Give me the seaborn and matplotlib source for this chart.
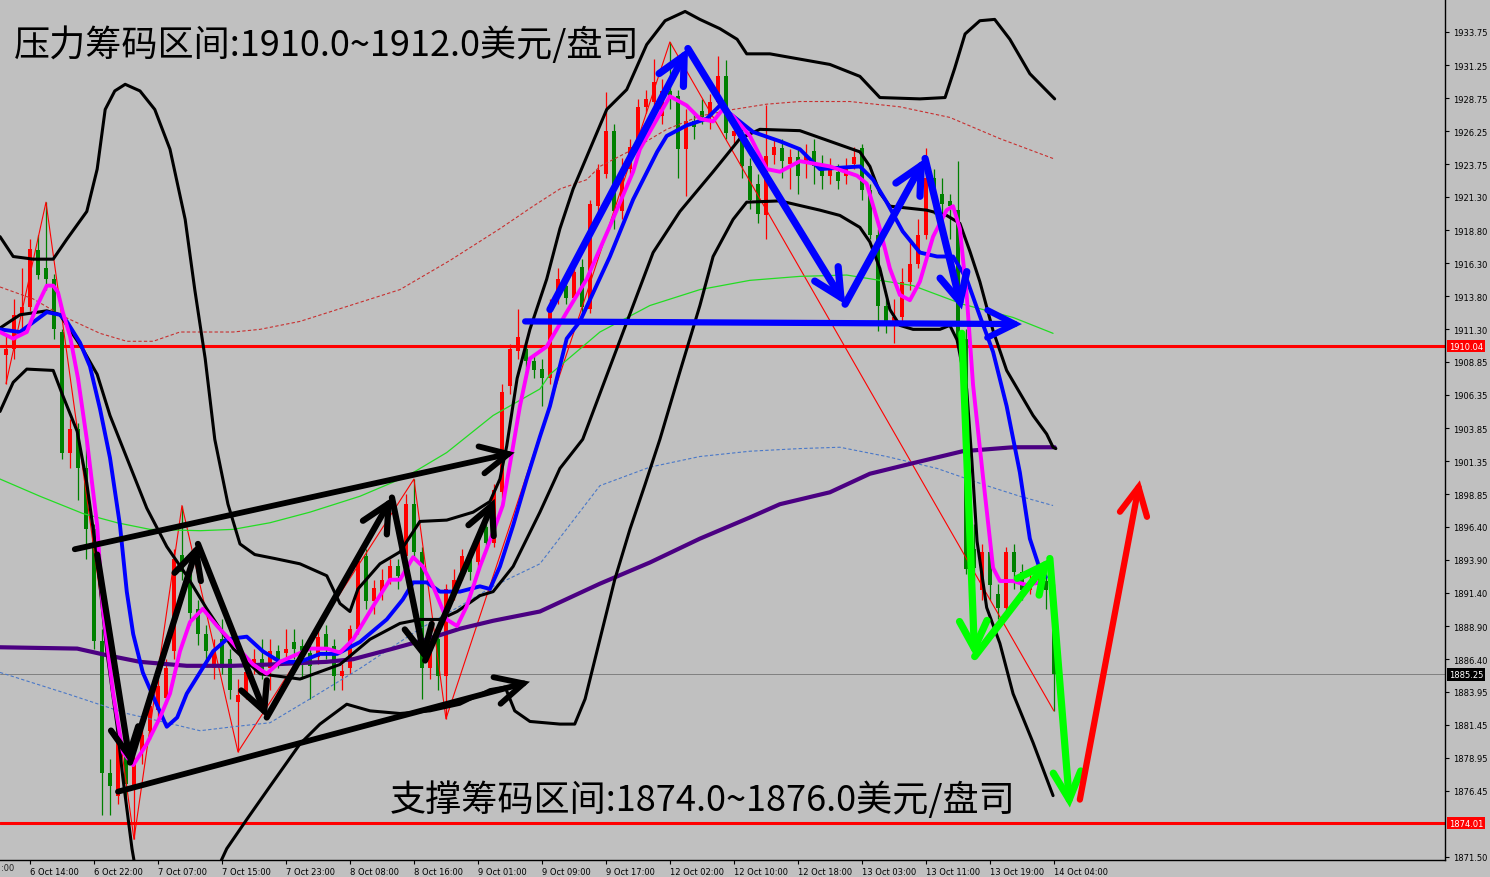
import matplotlib
matplotlib.use('Agg')
import matplotlib.pyplot as plt
import matplotlib.transforms as mtransforms
import seaborn as sns
import pandas as pd
import numpy as np

#================================================
# DATA (XAUUSD H1)

opens = [1909.4, 1909.8, 1912.4, 1913.0, 1917.3, 1915.9, 1915.1, 1911.1, 1902.0, 1903.8,
         1900.8, 1896.2, 1887.8, 1877.8, 1876.1, 1880.4, 1876.6, 1879.4, 1881.0, 1882.6,
         1883.5, 1887.0, 1894.3, 1893.0, 1890.2, 1888.3, 1885.7, 1887.9, 1886.4, 1883.2,
         1883.8, 1885.7, 1886.4, 1885.7, 1887.0, 1886.9, 1887.7, 1887.4, 1886.9, 1886.6,
         1888.3, 1887.4, 1885.1, 1885.7, 1888.7, 1894.2, 1890.8, 1891.5, 1892.4, 1893.4,
         1894.2, 1898.1, 1894.5, 1885.7, 1887.9, 1885.1, 1891.5, 1893.0, 1894.0, 1893.7,
         1896.4, 1895.2, 1899.0, 1907.0, 1909.7, 1909.8, 1908.9, 1908.3, 1907.6, 1913.7,
         1914.6, 1913.7, 1916.0, 1912.8, 1920.6, 1923.0, 1926.3, 1920.2, 1923.4, 1925.1,
         1928.1, 1928.5, 1927.4, 1929.3, 1928.9, 1924.9, 1927.0, 1927.8, 1927.3, 1928.5,
         1930.4, 1925.9, 1925.7, 1923.6, 1922.3, 1919.9, 1924.5, 1925.0, 1923.8, 1924.3,
         1924.0, 1924.8, 1923.8, 1922.9, 1923.2, 1922.9, 1923.8, 1925.0, 1921.8, 1918.4,
         1913.1, 1911.9, 1912.2, 1914.9, 1916.2, 1918.4, 1922.7, 1921.5, 1921.0, 1920.3,
         1910.6, 1894.7, 1891.6, 1894.5, 1891.3, 1890.3, 1894.5, 1893.0, 1891.6, 1892.0,
         1892.3, 1891.6]
closes = [1909.8, 1912.4, 1913.0, 1917.4, 1915.4, 1915.1, 1911.3, 1902.0, 1903.8, 1900.8,
          1896.2, 1887.8, 1877.8, 1876.8, 1880.4, 1877.0, 1878.9, 1880.7, 1882.9, 1884.4,
          1885.7, 1894.0, 1893.0, 1889.9, 1888.3, 1887.0, 1887.0, 1885.7, 1884.1, 1883.7,
          1885.4, 1886.4, 1885.6, 1887.0, 1886.4, 1887.2, 1887.2, 1886.9, 1885.9, 1888.1,
          1887.2, 1885.1, 1885.5, 1888.7, 1893.8, 1890.8, 1891.8, 1892.4, 1893.4, 1892.7,
          1898.1, 1894.5, 1885.7, 1888.4, 1885.1, 1891.7, 1892.4, 1894.2, 1893.0, 1895.5,
          1895.2, 1899.2, 1906.6, 1909.8, 1910.7, 1908.9, 1908.2, 1907.6, 1912.8, 1915.1,
          1913.7, 1915.6, 1913.0, 1920.8, 1923.3, 1926.3, 1920.2, 1923.4, 1925.1, 1928.1,
          1928.7, 1930.0, 1929.3, 1928.9, 1924.9, 1927.0, 1926.6, 1927.3, 1928.5, 1930.4,
          1926.1, 1926.3, 1923.6, 1921.1, 1920.0, 1924.4, 1925.1, 1924.0, 1924.3, 1922.9,
          1924.5, 1923.6, 1922.9, 1923.3, 1922.5, 1923.5, 1924.3, 1921.8, 1918.4, 1913.1,
          1911.6, 1912.2, 1914.9, 1916.2, 1918.4, 1922.7, 1921.3, 1920.8, 1920.6, 1910.6,
          1893.2, 1893.3, 1894.5, 1892.0, 1890.3, 1894.5, 1893.0, 1891.6, 1892.3, 1892.3,
          1891.6, 1885.25]
highs = [1910.9, 1913.6, 1915.9, 1918.1, 1918.4, 1920.9, 1915.5, 1911.3, 1904.5, 1904.2,
         1903.0, 1896.6, 1888.7, 1878.9, 1880.7, 1880.7, 1879.6, 1881.5, 1883.4, 1884.9,
         1886.4, 1894.7, 1898.0, 1893.6, 1890.9, 1889.0, 1887.9, 1889.4, 1887.2, 1884.9,
         1886.0, 1887.2, 1887.9, 1887.9, 1887.5, 1888.7, 1888.7, 1887.9, 1887.5, 1888.7,
         1889.0, 1887.9, 1886.0, 1889.0, 1894.3, 1894.7, 1892.4, 1893.2, 1894.0, 1894.0,
         1898.9, 1900.0, 1894.9, 1889.0, 1888.7, 1892.1, 1893.2, 1894.7, 1894.7, 1895.9,
         1897.0, 1899.6, 1907.2, 1910.2, 1912.8, 1910.6, 1909.4, 1909.1, 1913.6, 1915.9,
         1915.1, 1916.2, 1916.6, 1921.1, 1923.8, 1929.2, 1926.8, 1924.2, 1925.7, 1928.7,
         1929.4, 1931.7, 1930.2, 1933.0, 1929.4, 1927.9, 1927.6, 1928.7, 1929.1, 1931.9,
         1931.6, 1927.2, 1926.4, 1924.2, 1923.0, 1928.2, 1925.7, 1925.7, 1924.9, 1924.9,
         1925.3, 1925.7, 1924.5, 1924.2, 1923.8, 1924.2, 1925.1, 1925.3, 1922.3, 1918.9,
         1913.6, 1913.6, 1915.9, 1918.1, 1919.6, 1925.0, 1923.4, 1922.7, 1921.5, 1924.0,
         1911.3, 1896.6, 1895.1, 1894.9, 1892.1, 1894.9, 1895.1, 1893.6, 1892.8, 1893.2,
         1892.8, 1892.1]
lows = [1907.2, 1909.1, 1911.3, 1912.7, 1915.1, 1914.3, 1910.6, 1901.5, 1900.8, 1898.4,
        1894.0, 1887.2, 1874.6, 1874.6, 1875.5, 1875.8, 1872.8, 1878.5, 1880.4, 1881.9,
        1883.0, 1886.4, 1892.4, 1889.0, 1887.5, 1886.0, 1884.9, 1885.3, 1883.4, 1879.4,
        1883.4, 1885.3, 1884.9, 1884.1, 1885.7, 1886.0, 1886.4, 1884.9, 1883.4, 1886.0,
        1886.4, 1884.1, 1884.1, 1885.3, 1888.3, 1890.2, 1889.8, 1890.9, 1892.1, 1891.7,
        1894.0, 1894.0, 1883.4, 1884.9, 1884.1, 1881.9, 1890.9, 1892.4, 1892.4, 1893.2,
        1894.7, 1894.9, 1898.6, 1906.4, 1909.1, 1908.3, 1907.6, 1905.5, 1907.2, 1913.2,
        1913.2, 1913.6, 1912.5, 1912.5, 1920.0, 1922.7, 1918.9, 1919.6, 1923.0, 1924.5,
        1927.6, 1927.9, 1926.8, 1927.9, 1922.7, 1921.4, 1925.7, 1926.8, 1926.4, 1927.9,
        1925.7, 1925.3, 1922.7, 1920.4, 1919.3, 1918.1, 1923.8, 1922.7, 1921.9, 1921.5,
        1922.7, 1922.3, 1921.9, 1922.3, 1921.9, 1922.3, 1923.4, 1921.1, 1918.1, 1911.2,
        1911.0, 1910.3, 1911.7, 1914.3, 1915.9, 1918.1, 1920.0, 1920.0, 1918.1, 1910.2,
        1892.8, 1892.4, 1890.9, 1890.9, 1889.4, 1890.0, 1891.7, 1890.9, 1891.3, 1891.3,
        1890.2, 1882.5]

# zigzag pivots: bar index and whether it is a high
zigzag_bars = [0, 5, 16, 22, 29, 51, 55, 83, 131]
zigzag_is_high = [False, True, False, True, False, True, False, True, False]

# indicator lines (bar index, price)
outer_up_x = [-0.75, 0.9, 3.4, 5.9, 7.6, 10.1, 11.4, 12.4, 13.6, 14.9, 16.75, 18.6, 20.5, 22.4,
              23.6, 24.9, 26.1, 27.75, 29.25, 31.1, 33.6, 36.75, 40.1, 41.75, 43, 44, 46.75,
              49.25, 51.75, 55.1, 58.4, 60.5, 61.75, 62.6, 63.9, 65.5, 67.6, 69.25, 70.9, 73,
              75.1, 77.6, 80.1, 82.4, 84.9, 86.75, 89.25, 91.4, 92.6, 95.5, 99.25, 103, 106.75,
              109.25, 114.25, 117.4, 118.6, 119.9, 121.75, 123.6, 125.5, 128, 131.1]
outer_up_y = [1918.3, 1916.8, 1916.6, 1916.6, 1918.1, 1920.2, 1923.4, 1927.9, 1929.3, 1929.8,
              1929.3, 1927.9, 1924.9, 1919.6, 1914.3, 1909.1, 1903.0, 1898.1, 1895.1, 1894.3,
              1894.0, 1893.6, 1892.7, 1890.6, 1890.0, 1891.7, 1893.6, 1894.5, 1896.8, 1896.9,
              1897.5, 1898.3, 1900.0, 1902.5, 1907.6, 1911.3, 1915.1, 1918.9, 1921.9, 1924.9,
              1927.9, 1929.4, 1932.8, 1934.6, 1935.3, 1934.7, 1934.0, 1933.2, 1932.1, 1932.1,
              1931.7, 1931.3, 1930.4, 1928.8, 1928.7, 1928.8, 1931.0, 1933.6, 1934.6, 1934.7,
              1933.2, 1930.6, 1928.7]
outer_lo_x = [-0.75, 0.9, 2.6, 5.9, 7.1, 8.9, 10.1, 11.4, 12.6, 13.9, 14.6, 15.75, 16.4, 21.75,
              27.6, 30.1, 33, 36.75, 39.25, 42.6, 45.5, 49.25, 53, 56.75, 60.5, 62.4, 63.6,
              65.5, 69.25, 71.1, 72.4, 74.25, 76.1, 78, 79.9, 81.75, 84.25, 86.75, 88.4, 90.9,
              92.6, 96.75, 101.75, 104.25, 106.75, 108, 109.25, 110.5, 111.75, 113.4, 116.75,
              118, 118.9, 120.1, 120.75, 121.4, 122.6, 124.25, 125.9, 128.4, 130.9]
outer_lo_y = [1905.1, 1907.3, 1908.3, 1908.2, 1906.3, 1903.6, 1899.7, 1894.0, 1887.0, 1881.3,
              1877.5, 1872.1, 1869.8, 1864.5, 1872.1, 1874.3, 1876.8, 1880.0, 1881.5, 1883.0,
              1882.5, 1882.3, 1882.5, 1883.0, 1884.1, 1884.3, 1882.5, 1881.7, 1881.5, 1881.5,
              1883.4, 1887.9, 1892.4, 1896.2, 1899.6, 1903.0, 1908.1, 1913.1, 1916.8, 1919.6,
              1920.9, 1921.0, 1920.3, 1919.9, 1919.0, 1917.9, 1915.9, 1912.8, 1911.6, 1911.3,
              1911.3, 1911.6, 1910.5, 1906.8, 1901.4, 1895.3, 1890.3, 1887.6, 1883.8, 1880.1,
              1876.1]
inner_x = [-0.75, 1.75, 5.1, 6.75, 9.6, 11.4, 13, 15.1, 17.6, 20.1, 22.6, 25.1, 28.4, 31.75,
           36.75, 41.75, 45.5, 49.25, 51.75, 54.25, 56.4, 59.25, 60.9, 63.4, 66.75, 69.25, 72.1,
           75.9, 78.4, 80.9, 84.25, 88.4, 91.75, 94.25, 99.25, 106.75, 108, 109.25, 110.5,
           115.1, 117.6, 119.25, 120.5, 121.75, 123.4, 125.1, 126.75, 128.4, 130.1, 130.9, 131.25]
inner_y = [1911.4, 1912.4, 1912.7, 1912.4, 1909.8, 1907.9, 1904.8, 1901.6, 1897.8, 1894.9,
           1892.7, 1890.2, 1887.2, 1885.3, 1884.9, 1886.0, 1887.9, 1889.1, 1889.4, 1889.4,
           1890.0, 1891.2, 1891.5, 1893.4, 1897.5, 1900.8, 1903.0, 1909.1, 1913.1, 1917.1,
           1920.2, 1923.2, 1925.7, 1926.4, 1926.3, 1924.7, 1923.6, 1921.6, 1920.6, 1920.3,
           1919.9, 1919.3, 1917.2, 1914.9, 1911.2, 1908.2, 1906.5, 1904.8, 1903.4, 1902.4, 1902.3]
blue_ma_x = [-0.75, 1.75, 5.1, 6.75, 7.6, 9.25, 10.5, 11.75, 13, 14.25, 15.1, 15.9, 17.1, 18.9,
             20.1, 21.4, 22.6, 24.25, 25.9, 27.6, 30.1, 32.1, 34.25, 36.75, 39.25, 41.4, 44.25,
             47.6, 49.6, 50.9, 52.6, 54.25, 56.75, 59.25, 60.5, 61.75, 63.4, 65.1, 66.75, 68,
             70.1, 71.75, 75.5, 78.4, 81.4, 82.6, 85.1, 87.6, 89.25, 90.9, 93.4, 96.75, 99.25,
             101.75, 106.75, 108.4, 110.1, 112.1, 114.25, 116.4, 118.4, 120.1, 121.75, 123.4,
             125.1, 126.75, 128, 129.25, 130]
blue_ma_y = [1911.3, 1911.1, 1912.6, 1912.4, 1911.9, 1910.3, 1908.5, 1905.3, 1901.6, 1896.5,
             1891.5, 1888.3, 1885.4, 1882.9, 1881.3, 1882.0, 1883.8, 1885.4, 1887.0, 1887.9,
             1888.1, 1887.0, 1886.2, 1886.2, 1886.8, 1886.8, 1887.7, 1889.4, 1890.9, 1892.2,
             1892.2, 1891.5, 1891.5, 1891.9, 1891.7, 1893.4, 1896.5, 1900.0, 1903.2, 1905.5,
             1910.6, 1911.9, 1916.8, 1921.1, 1924.7, 1925.9, 1926.7, 1927.2, 1928.2, 1927.4,
             1926.2, 1925.5, 1924.9, 1923.4, 1923.6, 1922.6, 1920.9, 1918.7, 1917.1, 1916.8,
             1916.8, 1915.1, 1912.3, 1909.6, 1905.5, 1900.5, 1895.5, 1893.2, 1892.6]
magenta_ma_x = [-0.75, 0.9, 2.6, 3.9, 5.1, 5.9, 6.5, 7.1, 8, 9, 10.1, 11.4, 12.1, 13.4, 14.6,
                15.9, 17.6, 19.25, 20.5, 21.75, 23, 24.6, 26.4, 28.4, 30.9, 32.6, 34.25, 38,
                40.1, 41.75, 43.4, 45.9, 48, 49.25, 50.9, 52.1, 53.4, 55.1, 56.4, 57.6, 59.25,
                60.9, 62.1, 63.4, 64.25, 65.5, 67.6, 70.1, 72.6, 75.5, 78.4, 79.25, 83, 85.1,
                86.75, 88.4, 89.6, 90.9, 93, 95.1, 96.75, 98, 99.25, 103, 106.4, 107.6, 109.25,
                110.5, 111.75, 113, 114.25, 115.9, 117.6, 118.4, 119.25, 120.1, 120.9, 122.1,
                123.4, 124.25, 125.9, 127.6, 129.25]
magenta_ma_y = [1911.1, 1910.6, 1911.1, 1913.1, 1914.6, 1914.6, 1914.1, 1912.6, 1910.8, 1907.6,
                1903.0, 1896.5, 1890.2, 1883.8, 1879.4, 1878.4, 1880.0, 1882.0, 1883.8, 1887.0,
                1889.2, 1890.2, 1888.9, 1887.6, 1886.0, 1885.3, 1886.2, 1887.2, 1887.2, 1886.9,
                1887.9, 1890.4, 1892.4, 1892.4, 1894.1, 1893.4, 1891.9, 1889.4, 1888.9, 1890.4,
                1893.4, 1896.0, 1898.0, 1902.5, 1905.5, 1909.1, 1910.0, 1912.6, 1915.1, 1919.1,
                1923.2, 1924.9, 1928.9, 1928.2, 1927.2, 1927.0, 1927.9, 1927.4, 1925.9, 1923.4,
                1923.2, 1923.6, 1924.0, 1923.6, 1922.9, 1922.3, 1918.9, 1915.9, 1913.9, 1913.5,
                1914.9, 1918.3, 1920.3, 1920.6, 1918.9, 1913.9, 1907.1, 1900.4, 1893.3, 1892.3,
                1892.3, 1892.0, 1892.2]
purple_ma_x = [-0.75, 8.9, 12.6, 16.75, 22.6, 28.4, 33, 40.1, 43.4, 48.4, 52.6, 56.75, 60.9,
               66.75, 74.25, 80.5, 86.75, 93, 96.75, 103, 108, 113.4, 119.6, 125.9, 131.1]
purple_ma_y = [1887.3, 1887.2, 1886.7, 1886.2, 1885.9, 1885.9, 1886.0, 1886.2, 1886.4, 1887.2,
               1887.9, 1888.7, 1889.3, 1890.0, 1892.1, 1893.7, 1895.5, 1897.1, 1898.1, 1899.0,
               1900.4, 1901.2, 1902.1, 1902.4, 1902.4]
green_ma_x = [-0.75, 4.25, 9.6, 13.9, 18, 24.25, 28.4, 33, 38, 44.25, 50.1, 55.1, 60.9, 66.75,
              68, 74.25, 80.5, 86.75, 93, 99.25, 105.1, 113.4, 119.6, 125.9, 130.9]
green_ma_y = [1900.0, 1898.7, 1897.4, 1896.7, 1896.2, 1896.1, 1896.2, 1896.7, 1897.5, 1898.7,
              1900.2, 1902.0, 1904.8, 1906.8, 1907.9, 1911.1, 1913.1, 1914.3, 1915.0, 1915.3,
              1915.4, 1914.6, 1913.2, 1912.2, 1911.0]
env_up_x = [-0.75, 3.4, 7.1, 9.6, 11.75, 15.1, 18.4, 21.75, 28.4, 31.75, 36.75, 43, 49.25, 55.5,
            61.75, 65.9, 69.25, 72.6, 74.25, 78.4, 82.6, 86.75, 90.9, 95.1, 99.25, 105.5,
            111.75, 118, 124.25, 130.9]
env_up_y = [1914.5, 1913.6, 1912.3, 1911.6, 1911.0, 1910.4, 1910.4, 1911.1, 1911.1, 1911.3,
            1911.9, 1913.1, 1914.3, 1916.5, 1918.9, 1920.6, 1921.9, 1922.6, 1923.6, 1924.9,
            1926.4, 1927.4, 1927.9, 1928.3, 1928.5, 1928.5, 1928.1, 1927.3, 1925.7, 1924.2]
env_lo_x = [-0.75, 7.6, 15.1, 20.1, 24.25, 28.4, 33, 38, 44.25, 51.75, 56.75, 60.9, 66.75,
            74.25, 80.5, 86.75, 93, 99.25, 104.25, 110.1, 116.4, 122.6, 126.75, 130.9]
env_lo_y = [1885.4, 1883.8, 1882.3, 1881.6, 1881.0, 1881.3, 1881.6, 1883.4, 1885.7, 1888.7,
            1890.4, 1891.9, 1893.6, 1899.5, 1900.9, 1901.7, 1902.1, 1902.3, 1902.4, 1901.7,
            1900.8, 1899.5, 1898.7, 1898.0]

# levels
resistance = 1910.04
support = 1874.01
last_price = 1885.25

# hand-drawn arrows: start / end (bar, price)
black_arrows = [((8.6, 1894.7), (63.6, 1902.0)),
                ((14.0, 1876.4), (65.5, 1884.7))]
black_zig_x = [11.4, 15.5, 24.0, 32.6, 48.25, 52.4, 61.1]
black_zig_y = [1894.3, 1878.6, 1895.1, 1882.0, 1898.6, 1886.3, 1898.5]
blue_zig_x = [68.0, 85.25, 104.9, 114.9, 119.5]
blue_zig_y = [1912.8, 1932.5, 1913.2, 1924.2, 1912.8]
blue_flat = ((64.9, 1911.9), (127.0, 1911.7))
green_zig_x = [119.5, 121.1, 130.5, 133.0]
green_zig_y = [1911.0, 1886.6, 1894.0, 1875.2]
red_arrow = ((134.25, 1875.8), (141.75, 1899.9))

# axis labels
price_ticks = [1933.75, 1931.25, 1928.75, 1926.25, 1923.75, 1921.30, 1918.80, 1916.30, 1913.80,
               1911.30, 1908.85, 1906.35, 1903.85, 1901.35, 1898.85, 1896.40, 1893.90, 1891.40,
               1888.90, 1886.40, 1883.95, 1881.45, 1878.95, 1876.45, 1871.50]
time_bars = [3, 11, 19, 27, 35, 43, 51, 59, 67, 75, 83, 91, 99, 107, 115, 123, 131]
time_labels = ['6 Oct 14:00', '6 Oct 22:00', '7 Oct 07:00', '7 Oct 15:00',
               '7 Oct 23:00', '8 Oct 08:00', '8 Oct 16:00', '9 Oct 01:00', '9 Oct 09:00',
               '9 Oct 17:00', '12 Oct 02:00', '12 Oct 10:00', '12 Oct 18:00', '13 Oct 03:00',
               '13 Oct 11:00', '13 Oct 19:00', '14 Oct 04:00']
cut_label = ':00'   # tail of the label just left of the window

text_top = '压力筹码区间:1910.0~1912.0美元/盘司'
text_bottom = '支撑筹码区间:1874.0~1876.0美元/盘司'

#================================================
# FIGURE

sns.set_style('white')
plt.rcParams['font.family'] = ['DejaVu Sans']
BG = '#c0c0c0'

fig = plt.figure(figsize=(14.9, 8.78), dpi=100, facecolor=BG)
ax = fig.add_axes([0, 17 / 878, 1445 / 1490, 861 / 878])
ax.set_facecolor(BG)

#------------------------------------
# horizontal levels
ax.axhline(resistance, color='#ff0000', lw=2.2, zorder=1)
ax.axhline(support, color='#ff0000', lw=2.2, zorder=1)
ax.axhline(last_price, color='#808080', lw=0.7, zorder=1)

#------------------------------------
# candles
df = pd.DataFrame({'o': opens, 'c': closes, 'h': highs, 'l': lows})
df['bar'] = np.arange(len(df))
df['col'] = np.where(df['c'] >= df['o'], '#ff0000', '#008000')
ax.vlines(df['bar'], df['l'], df['h'], colors=df['col'], lw=0.9, zorder=2)
body = (df['c'] - df['o']).abs().clip(lower=0.12)
ax.bar(df['bar'], body, bottom=df[['o', 'c']].min(axis=1), width=0.55,
       color=df['col'], edgecolor='none', zorder=2.1)

#------------------------------------
# zigzag
zz_price = [highs[b] if hi else lows[b] for b, hi in zip(zigzag_bars, zigzag_is_high)]
sns.lineplot(x=zigzag_bars, y=zz_price, ax=ax, color='#ff0000', lw=0.8, sort=False,
             estimator=None, zorder=2.5)

#------------------------------------
# indicator lines
lines = [
    (env_up_x, env_up_y, '#c83030', 0.8, (0, (3, 2))),
    (env_lo_x, env_lo_y, '#4a78c8', 0.8, (0, (3, 2))),
    (green_ma_x, green_ma_y, '#22dd22', 0.9, '-'),
    (purple_ma_x, purple_ma_y, '#4b0082', 3.0, '-'),
    (outer_up_x, outer_up_y, 'black', 2.2, '-'),
    (outer_lo_x, outer_lo_y, 'black', 2.2, '-'),
    (inner_x, inner_y, 'black', 2.2, '-'),
    (blue_ma_x, blue_ma_y, '#0000ff', 2.8, '-'),
    (magenta_ma_x, magenta_ma_y, '#ff00ff', 2.8, '-'),
]
for i, (xs, ys, col, lw, ls) in enumerate(lines):
    sns.lineplot(x=xs, y=ys, ax=ax, color=col, lw=lw, linestyle=ls, sort=False,
                 estimator=None, zorder=3 + i * 0.01)

#------------------------------------
# arrows
def arrow(p0, p1, color, lw):
    ax.annotate('', xy=p1, xytext=p0, zorder=6,
                arrowprops=dict(arrowstyle='->,head_length=0.9,head_width=0.45',
                                color=color, lw=lw, shrinkA=0, shrinkB=0,
                                mutation_scale=22, joinstyle='miter', capstyle='round'))

for p0, p1 in black_arrows:
    arrow(p0, p1, 'black', 4.2)
for xs, ys, col, lw in [(black_zig_x, black_zig_y, 'black', 4.5),
                        (blue_zig_x, blue_zig_y, '#0000ff', 5.2),
                        (green_zig_x, green_zig_y, '#00ff00', 5.2)]:
    for k in range(len(xs) - 1):
        arrow((xs[k], ys[k]), (xs[k + 1], ys[k + 1]), col, lw)
arrow(blue_flat[0], blue_flat[1], '#0000ff', 4.5)
arrow(red_arrow[0], red_arrow[1], '#ff0000', 4.5)

#------------------------------------
# texts
cjk = ['Noto Sans CJK SC', 'DejaVu Sans']
ax.text(14 / 1445, 1 - 45 / 861, text_top, transform=ax.transAxes, family=cjk,
        fontsize=26, color='black', va='center', ha='left', zorder=7)
ax.text(390 / 1445, 1 - 800 / 861, text_bottom, transform=ax.transAxes, family=cjk,
        fontsize=26, color='black', va='center', ha='left', zorder=7)

#------------------------------------
# axes formatting
for s in ['left', 'top']:
    ax.spines[s].set_visible(False)
for s in ['right', 'bottom']:
    ax.spines[s].set_color('black')
    ax.spines[s].set_linewidth(1.0)

ax.yaxis.tick_right()
ax.set_yticks(price_ticks)
ax.set_yticklabels([f'{v:.2f}' for v in price_ticks])
ax.set_xticks(time_bars)
ax.set_xticklabels(time_labels, ha='left')
ax.tick_params(axis='y', which='both', right=True, left=False, length=3, width=0.8,
               labelsize=6, pad=3, colors='black')
ax.tick_params(axis='x', which='both', bottom=True, length=3, width=0.8,
               labelsize=6, pad=2, colors='black')
ax.grid(False)
ax.set_xlim(-0.75, 179.9)
ax.set_ylim(1871.24, 1936.24)

# tail of the tick label that falls just left of the window
ax.text(1 / 1445, -0.004, cut_label, transform=ax.transAxes, fontsize=6, ha='left', va='top',
        clip_on=False)

# highlighted price labels on the scale
tr = mtransforms.blended_transform_factory(ax.transAxes, ax.transData)
for val, fc in [(resistance, '#ff0000'), (support, '#ff0000'), (last_price, 'black')]:
    ax.text(1.0 + 4 / 1445, val, f'{val:.2f}', transform=tr, fontsize=6, color='white',
            va='center', ha='left', clip_on=False, zorder=8,
            bbox=dict(boxstyle='square,pad=0.2', fc=fc, ec='none'))

fig.savefig('out.png', dpi=100, facecolor=BG)
